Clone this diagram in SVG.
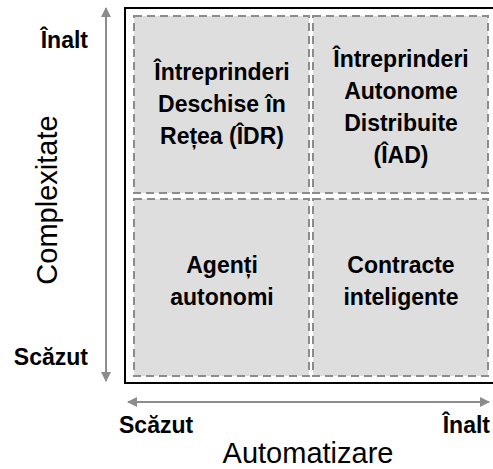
<svg xmlns="http://www.w3.org/2000/svg" width="493" height="469" viewBox="0 0 493 469">
<defs>
<marker id="ah" markerWidth="10" markerHeight="10" refX="9" refY="5" orient="auto-start-reverse" markerUnits="userSpaceOnUse">
<path d="M0,0 L10,5 L0,10 Z" fill="#8c8c8c"/>
</marker>
<style>
.q{fill:#dedede;stroke:#8c8c8c;stroke-width:2;stroke-dasharray:8,5}
.t{font-family:"Liberation Sans",Arial,sans-serif;font-weight:bold;font-size:23px;fill:#000;text-anchor:middle}
.lb{font-family:"Liberation Sans",Arial,sans-serif;font-weight:bold;font-size:23px;fill:#000}
.ax{font-family:"Liberation Sans",Arial,sans-serif;font-size:29px;fill:#000;text-anchor:middle}
.ar{stroke:#8c8c8c;stroke-width:2;fill:none}
</style>
</defs>
<rect x="0" y="0" width="493" height="469" fill="#fff"/>
<g id="connectors">
<line class="ar" x1="106" y1="8" x2="106" y2="381" marker-start="url(#ah)" marker-end="url(#ah)"/>
<line class="ar" x1="128" y1="402" x2="489" y2="402" marker-start="url(#ah)" marker-end="url(#ah)"/>
</g>
<rect id="frame" x="125" y="8" width="380" height="375" fill="#fff" stroke="#000" stroke-width="2"/>
<g id="q-idr">
<rect class="q" x="134" y="16" width="175" height="177"/>
<text class="t" x="222" y="80">Întreprinderi</text>
<text class="t" x="222" y="112">Deschise în</text>
<text class="t" x="222" y="144">Rețea (ÎDR)</text>
</g>
<g id="q-iad">
<rect class="q" x="313" y="16" width="175" height="177"/>
<text class="t" x="401" y="67">Întreprinderi</text>
<text class="t" x="401" y="99">Autonome</text>
<text class="t" x="401" y="131">Distribuite</text>
<text class="t" x="401" y="163">(ÎAD)</text>
</g>
<g id="q-agenti">
<rect class="q" x="134" y="199" width="175" height="177"/>
<text class="t" x="222" y="273">Agenți</text>
<text class="t" x="222" y="305">autonomi</text>
</g>
<g id="q-contracte">
<rect class="q" x="313" y="199" width="175" height="177"/>
<text class="t" x="401" y="273">Contracte</text>
<text class="t" x="401" y="305">inteligente</text>
</g>
<g id="labels">
<text class="lb" x="88" y="48" text-anchor="end">Înalt</text>
<text class="lb" x="88" y="365" text-anchor="end">Scăzut</text>
<text class="lb" x="119" y="433">Scăzut</text>
<text class="lb" x="490" y="433" text-anchor="end">Înalt</text>
<text class="ax" x="308" y="463">Automatizare</text>
<text class="ax" transform="translate(57,200) rotate(-90)">Complexitate</text>
</g>
</svg>
